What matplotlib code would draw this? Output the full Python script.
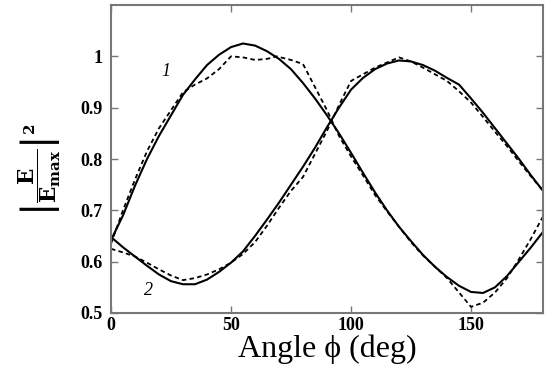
import matplotlib
matplotlib.use("Agg")
import matplotlib.pyplot as plt

# curve 1 (solid = theory, dashed = simulation)
ang1 = [0, 5, 10, 15, 20, 25, 30, 35, 40, 45, 50, 55, 60, 65, 70, 75, 80, 85, 90, 95,
        100, 105, 110, 115, 120, 125, 130, 135, 140, 145, 150, 155, 160, 165, 170, 175, 180]
sol1 = [0.642, 0.69, 0.748, 0.80, 0.845, 0.885, 0.925, 0.955, 0.983, 1.003, 1.018, 1.025,
        1.021, 1.01, 0.995, 0.975, 0.948, 0.918, 0.885, 0.85, 0.812, 0.773, 0.735, 0.70,
        0.668, 0.64, 0.613, 0.59, 0.57, 0.553, 0.541, 0.539, 0.55, 0.572, 0.60, 0.628, 0.658]
ang1d = [0, 5, 10, 15, 20, 25, 30, 35, 40, 45, 50, 55, 60, 65, 69, 75, 80, 85, 90, 93, 95,
         100, 105, 110, 115, 120, 125, 130, 135, 140, 145, 150, 155, 160, 165, 170, 175, 180]
das1 = [0.635, 0.70, 0.76, 0.815, 0.86, 0.895, 0.93, 0.945, 0.957, 0.975, 1.0, 0.998, 0.993,
        0.995, 1.0, 0.993, 0.985, 0.94, 0.895, 0.865, 0.845, 0.805, 0.768, 0.73, 0.698, 0.668,
        0.638, 0.612, 0.59, 0.568, 0.54, 0.512, 0.52, 0.54, 0.568, 0.605, 0.645, 0.688]

# curve 2
ang2 = ang1
sol2 = [0.648, 0.628, 0.61, 0.592, 0.575, 0.562, 0.556, 0.556, 0.565, 0.58, 0.598, 0.62,
        0.65, 0.682, 0.715, 0.75, 0.785, 0.822, 0.862, 0.90, 0.935, 0.958, 0.975, 0.986,
        0.992, 0.99, 0.983, 0.972, 0.958, 0.945, 0.918, 0.89, 0.86, 0.83, 0.80, 0.768, 0.738]
das2 = [0.625, 0.618, 0.61, 0.598, 0.585, 0.573, 0.564, 0.568, 0.575, 0.585, 0.598, 0.615,
        0.638, 0.67, 0.705, 0.738, 0.765, 0.81, 0.855, 0.905, 0.952, 0.965, 0.978, 0.988,
        0.998, 0.99, 0.978, 0.965, 0.952, 0.932, 0.91, 0.882, 0.853, 0.825, 0.795, 0.766, 0.738]

xticks = [0, 50, 100, 150]
yticks = [0.5, 0.6, 0.7, 0.8, 0.9, 1.0]
ylabels = ["0.5", "0.6", "0.7", "0.8", "0.9", "1"]

plt.rcParams['mathtext.fontset'] = 'dejavuserif'
serif = ['Liberation Serif', 'DejaVu Serif']

fig = plt.figure(figsize=(5.5, 3.69), dpi=100)
ax = fig.add_axes([0.2018, 0.1518, 0.7855, 0.8346])

ax.plot(ang1, sol1, color='black', lw=1.5)
ax.plot(ang1d, das1, color='black', lw=1.3, ls=(0, (2.5, 1.8)))
ax.plot(ang2, sol2, color='black', lw=1.5)
ax.plot(ang2, das2, color='black', lw=1.3, ls=(0, (2.5, 1.8)))

ax.set_xlim(0, 180)
ax.set_ylim(0.5, 1.1)
ax.set_xticks(xticks)
ax.set_xticklabels([str(t) for t in xticks], family=serif, fontweight='bold', fontsize=13)
ax.set_yticks(yticks)
ax.set_yticklabels(ylabels, family=serif, fontweight='bold', fontsize=13)
ax.tick_params(direction='in', length=5, width=1, color='#777777', top=True, right=True)
ax.tick_params(axis='y', pad=6)
ax.tick_params(axis='x', pad=3)
for s in ax.spines.values():
    s.set_color('#777777')
    s.set_linewidth(1.5)

ax.text(23, 0.97, '1', family=serif, style='italic', fontsize=13, ha='center', va='center')
ax.text(15.5, 0.543, '2', family=serif, style='italic', fontsize=13, ha='center', va='center')

ax.set_xlabel('Angle ϕ (deg)', family=serif, fontsize=23, labelpad=0)
fig.text(0.072, 0.54, r'$\left|\dfrac{\mathbf{E}}{\mathbf{E}_{\mathbf{max}}}\right|^{\mathbf{2}}$',
         rotation=90, fontsize=15.5, ha='center', va='center')

fig.savefig('out.png', dpi=100)
